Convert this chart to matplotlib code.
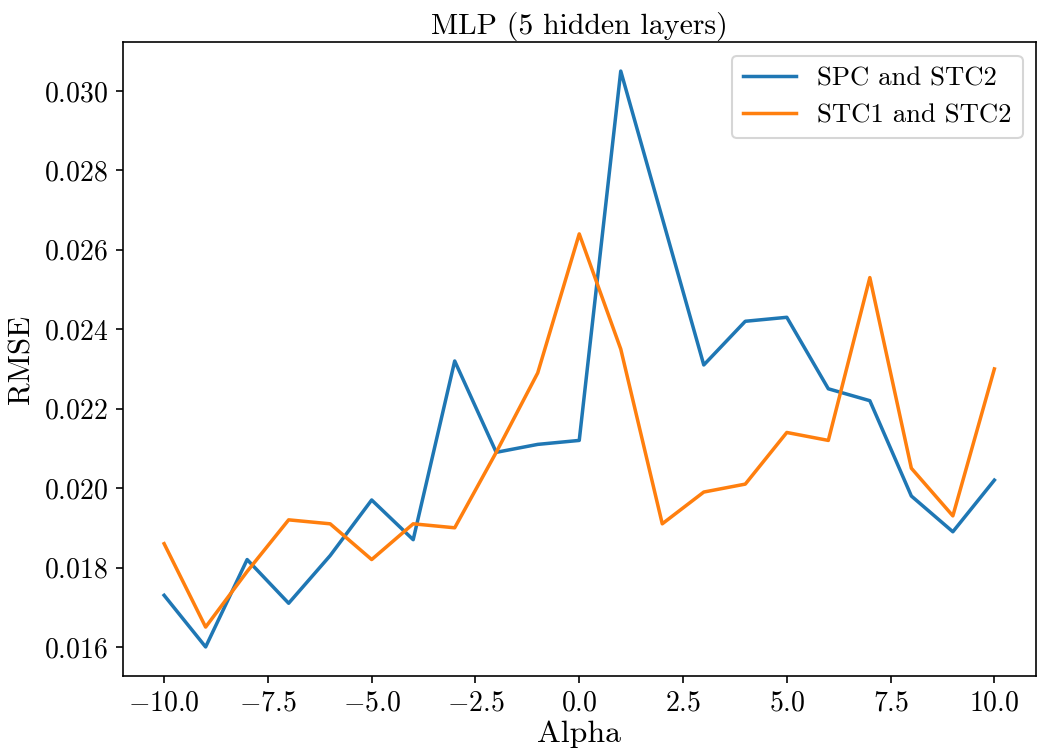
import matplotlib
matplotlib.use("Agg")
import matplotlib.pyplot as plt

alpha = [-10, -9, -8, -7, -6, -5, -4, -3, -2, -1, 0, 1, 2, 3, 4, 5, 6, 7, 8, 9, 10]
rmse_spc_stc2 = [0.0173, 0.0160, 0.0182, 0.0171, 0.0183, 0.0197, 0.0187, 0.0232, 0.0209, 0.0211,
                 0.0212, 0.0305, 0.0268, 0.0231, 0.0242, 0.0243, 0.0225, 0.0222, 0.0198, 0.0189, 0.0202]
rmse_stc1_stc2 = [0.0186, 0.0165, 0.0179, 0.0192, 0.0191, 0.0182, 0.0191, 0.0190, 0.0209, 0.0229,
                  0.0264, 0.0235, 0.0191, 0.0199, 0.0201, 0.0214, 0.0212, 0.0253, 0.0205, 0.0193, 0.0230]

plt.rcParams["font.family"] = "serif"
plt.rcParams["font.serif"] = ["cmr10"]
plt.rcParams["mathtext.fontset"] = "cm"
plt.rcParams["axes.formatter.use_mathtext"] = True

fig, ax = plt.subplots(figsize=(1039 / 148, 755 / 148), dpi=148)
fig.subplots_adjust(left=0.118, right=0.997, top=0.944, bottom=0.105)
ax.plot(alpha, rmse_spc_stc2, label="SPC and STC2", linewidth=1.7)
ax.plot(alpha, rmse_stc1_stc2, label="STC1 and STC2", linewidth=1.7)
ax.set_xlabel("Alpha", fontsize=15.5, labelpad=2)
ax.set_ylabel("RMSE", fontsize=15)
ax.set_title("MLP (5 hidden layers)", fontsize=14.5, pad=4)
ax.tick_params(labelsize=13.5)
ax.legend(fontsize=13)
fig.savefig("out.png", dpi=148)
